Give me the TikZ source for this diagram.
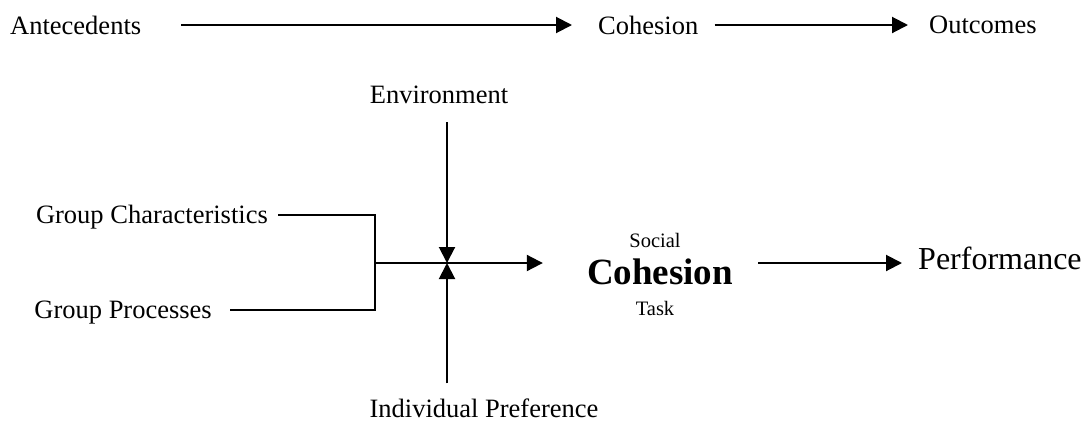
\documentclass[tikz,border=0pt]{standalone}
\usepackage{fontspec}
\setmainfont{Liberation Serif}
\usetikzlibrary{arrows.meta}
\newcommand{\txt}{\fontsize{26.5}{30}\selectfont}
\begin{document}
\begin{tikzpicture}[x=1pt,y=-1pt,
  every node/.style={inner sep=0pt},
  wire/.style={line width=2pt},
  arr/.style={wire,-{Triangle[length=16pt,width=16pt]}}]
\useasboundingbox (0,0) rectangle (1089,421);
% top row
\node [anchor=west] (ante) at (10,25) {\txt Antecedents};
\node [anchor=west] (coh) at (598,25) {\txt Cohesion};
\node [anchor=west] (outc) at (929,25) {\txt Outcomes};
\draw [arr,shorten <=40pt,shorten >=26pt] (ante) -- (coh);
\draw [arr,shorten <=16pt,shorten >=21pt] (coh) -- (outc);
% model
\node (env) at (439,95) {\txt Environment};
\node (indiv) at (484,408) {\txt Individual Preference};
\node [anchor=east] (gchar) at (268,217) {\txt Group Characteristics};
\node [anchor=east] (gproc) at (212,313) {\txt Group Processes};
\node (social) at (655,240) {\fontsize{20.5}{24}\selectfont Social};
\node (cohbig) at (660,272) {\fontsize{37}{42}\selectfont\bfseries Cohesion};
\node (task) at (655,308) {\fontsize{20.5}{24}\selectfont Task};
\node [anchor=west] (perf) at (918,258) {\fontsize{32}{36}\selectfont Performance};
\coordinate (jn) at (447,263);
\coordinate (brk) at (375,263);
\draw [wire,shorten <=10pt] (gchar.east |- 0,215) -| (brk);
\draw [wire,shorten <=18pt] (gproc.east |- 0,310) -| (brk);
\draw [arr,shorten >=44pt] (brk) -- (brk -| cohbig.west);
\draw [arr,shorten <=18pt] (env.south -| jn) -- (jn);
\draw [arr,shorten <=15pt] (indiv.north -| jn) -- (jn);
\draw [arr,shorten <=25pt,shorten >=16pt] (cohbig.east |- jn) -- (perf.west |- jn);
\end{tikzpicture}
\end{document}
